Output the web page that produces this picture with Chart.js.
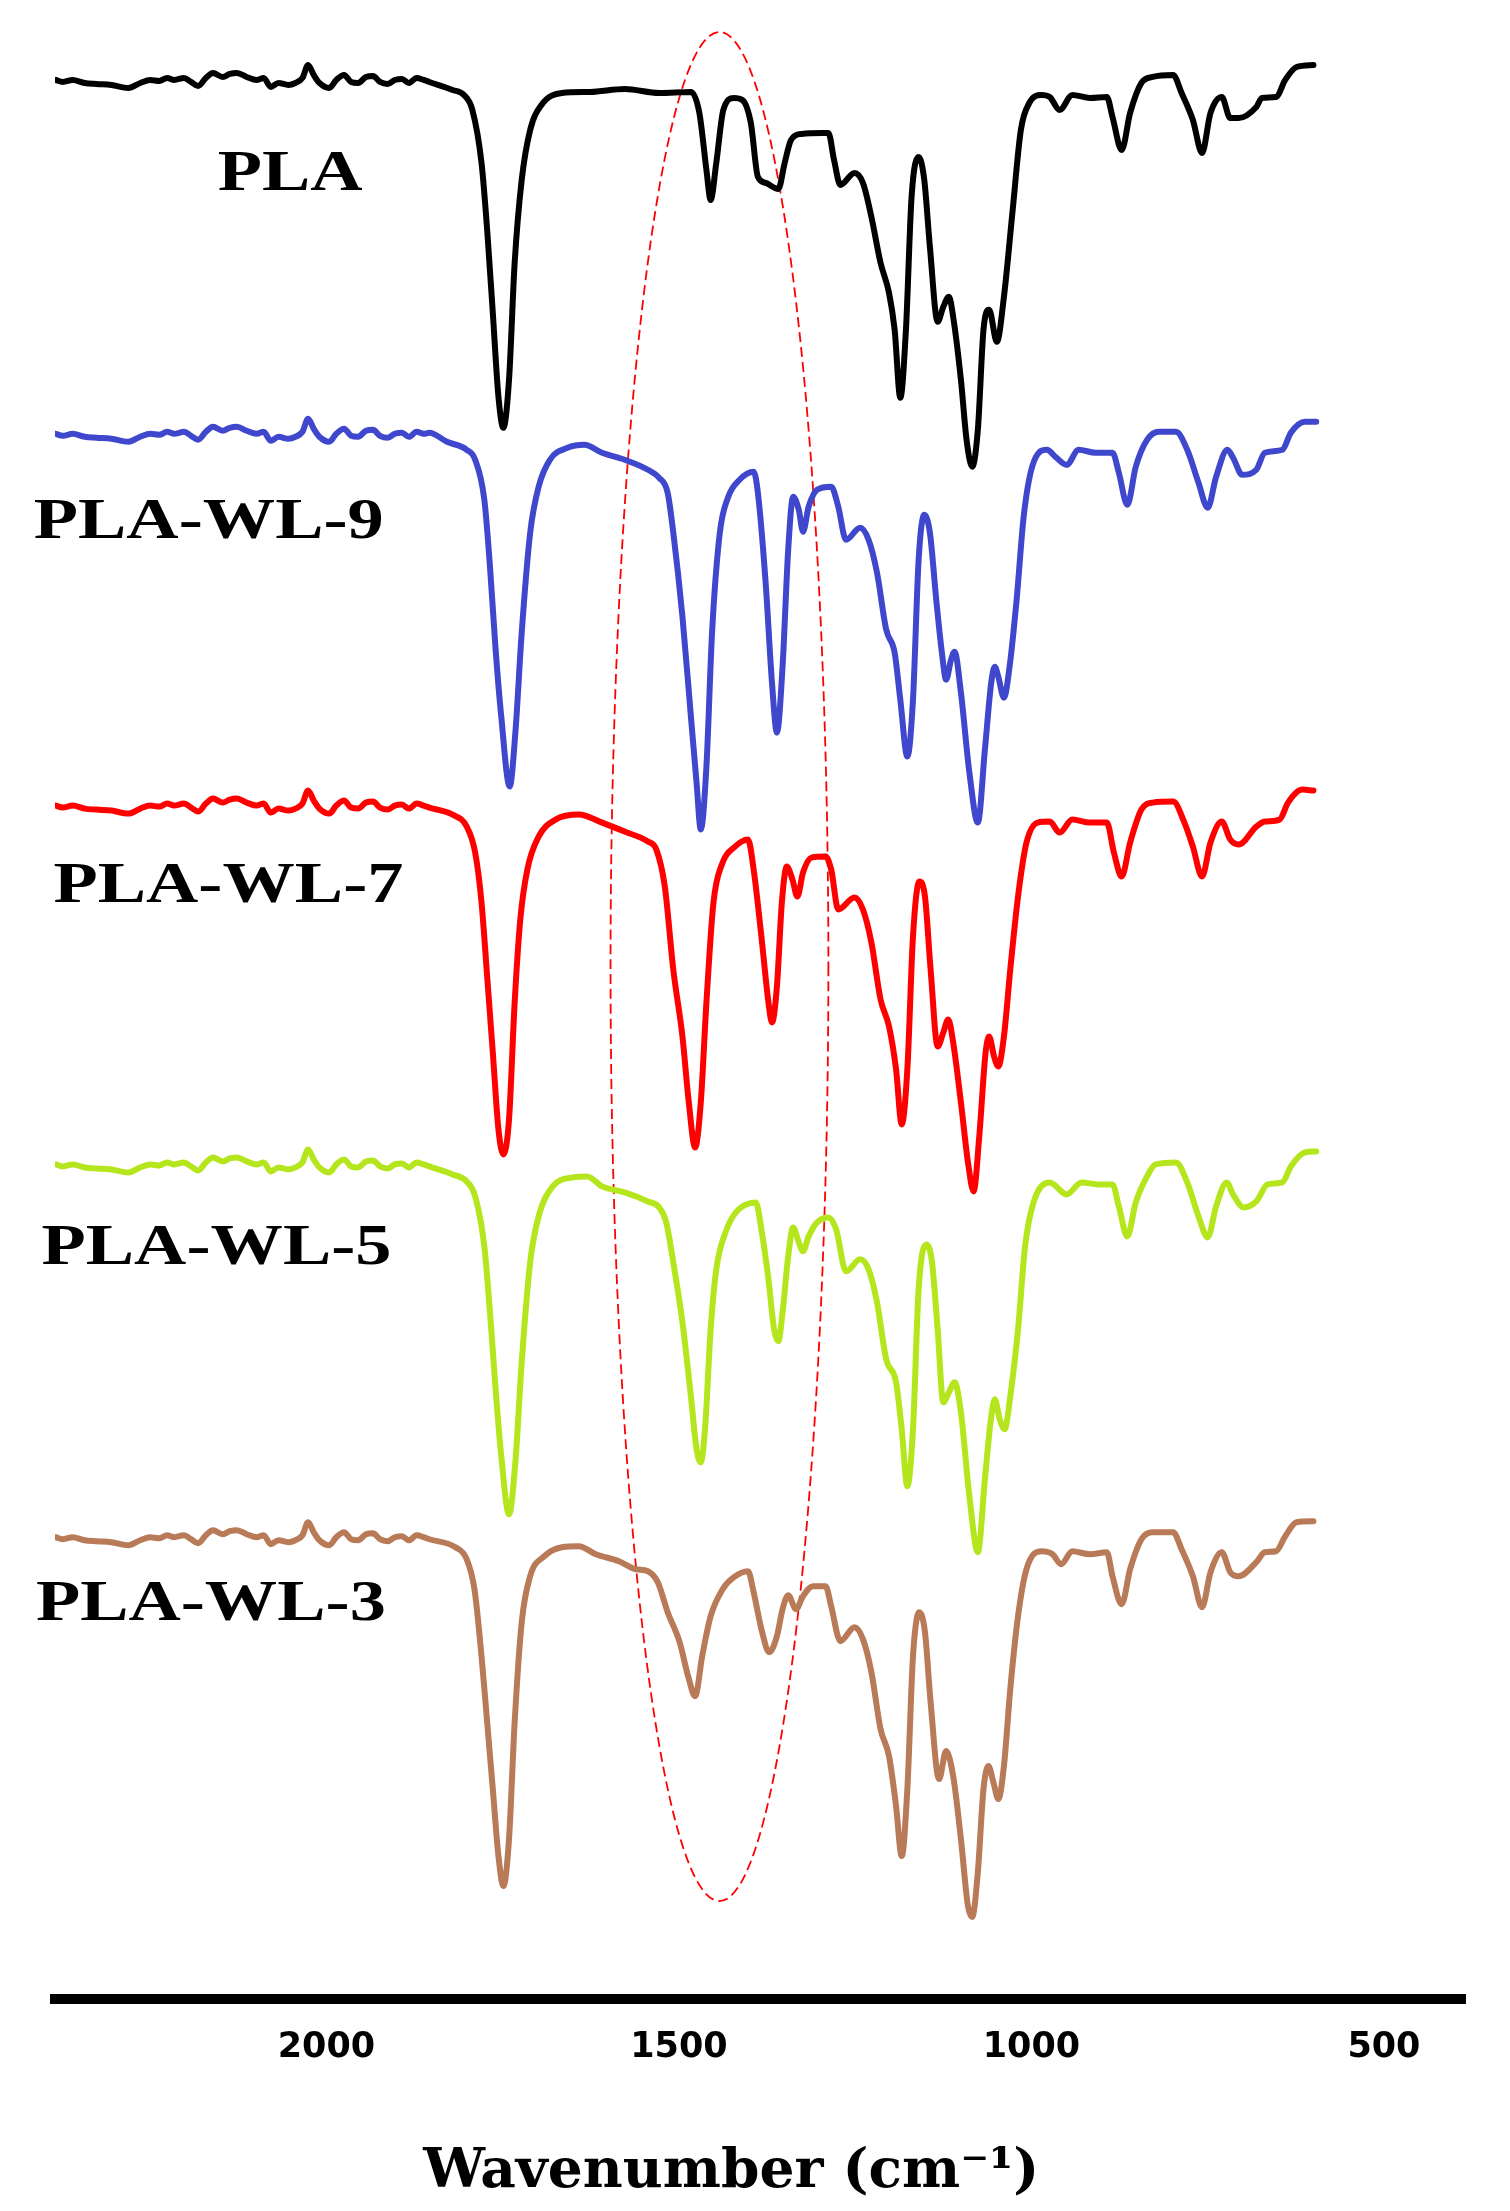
<!DOCTYPE html>
<html>
<head>
<meta charset="utf-8">
<title>FTIR spectra</title>
<script src="https://cdn.jsdelivr.net/npm/chart.js@4.4.1/dist/chart.umd.min.js"></script>
<style>
    body { margin: 0; background: #ffffff; }
</style>
</head>
<body>
<canvas id="ftirChart" width="1510" height="2211"></canvas>
<script>
// spectra: wavenumber (cm-1) and stacked transmittance (a.u.)
const plaWn = [2384, 2374, 2360, 2343, 2326, 2305, 2281, 2264, 2250, 2237, 2226, 2216, 2202, 2192, 2182, 2171, 2161, 2147, 2137, 2127,
    2113, 2099, 2089, 2079, 2068, 2054, 2044, 2034, 2026, 2018, 2010, 1996, 1986, 1975, 1965, 1955, 1944, 1934, 1924, 1913,
    1903, 1893, 1883, 1872, 1862,
    1854, 1821, 1805, 1793, 1780, 1772, 1764, 1756, 1749, 1741, 1733, 1723, 1711, 1695, 1666, 1626, 1577, 1528, 1483, 1471,
    1461, 1455, 1447, 1437, 1422, 1410, 1398, 1388, 1377, 1359, 1350, 1341, 1326, 1296, 1288, 1280, 1271, 1251, 1239, 1227,
    1214, 1202, 1194, 1186, 1178, 1170, 1160, 1152, 1144, 1133, 1125, 1117, 1111, 1100, 1092, 1084, 1076, 1068, 1060, 1049,
    1039, 1027, 1015, 1003, 986, 974, 960, 942, 917, 893, 885, 872, 860, 844, 828, 799, 787, 771, 758, 746,
    730, 718, 706, 681, 673, 653, 640, 624, 600];
const plaT = [192.0, 191.8, 192.0, 191.7, 191.6, 191.5, 191.2, 191.7, 192.0, 191.9, 192.2, 192.0, 192.2, 191.8, 191.4, 192.2, 192.7, 192.3, 192.6, 192.7,
    192.3, 192.0, 192.2, 191.3, 191.7, 191.5, 191.7, 192.2, 193.5, 192.5, 191.7, 191.2, 192.0, 192.5, 191.8, 191.7, 192.3, 192.4, 191.8, 191.6,
    192.0, 192.1, 191.7, 192.2, 192.0,
    191.8, 191.0, 190.5, 189.0, 183.7, 177.0, 168.7, 160.3, 157.2, 162.0, 173.7, 182.0, 187.0, 189.5, 190.7, 190.8, 191.1, 190.7, 190.8, 188.7,
    183.0, 180.0, 183.7, 189.0, 190.2, 190.0, 187.7, 182.3, 181.7, 181.1, 183.7, 186.0, 186.6, 186.7, 186.7, 184.0, 181.5, 182.7, 181.7, 178.3,
    173.7, 170.7, 167.0, 160.2, 167.0, 180.3, 184.3, 182.0, 175.3, 167.8, 169.3, 170.3, 168.3, 162.0, 156.0, 153.3, 157.0, 167.0, 169.0, 165.8,
    170.3, 178.7, 187.0, 189.7, 190.5, 190.3, 189.0, 190.5, 190.2, 190.3, 188.3, 185.0, 188.7, 191.7, 192.3, 192.5, 190.7, 188.0, 184.7, 188.7,
    190.3, 188.2, 188.2, 189.3, 190.2, 190.3, 192.0, 193.3, 193.5];

const wl9Wn = [2384, 2374, 2360, 2343, 2326, 2305, 2281, 2264, 2250, 2237, 2226, 2216, 2202, 2192, 2182, 2171, 2161, 2147, 2137, 2127,
    2113, 2099, 2089, 2079, 2068, 2054, 2044, 2034, 2026, 2018, 2010, 1996, 1986, 1975, 1965, 1955, 1944, 1934, 1924, 1913,
    1903, 1893, 1883, 1872, 1862,
    1854, 1829, 1801, 1789, 1776, 1768, 1760, 1752, 1740, 1732, 1723, 1711, 1699, 1683, 1658, 1634, 1609, 1577, 1544, 1528,
    1516, 1508, 1495, 1483, 1475, 1469, 1461, 1453, 1442, 1430, 1414, 1394, 1388, 1377, 1368, 1361, 1353, 1345, 1338, 1330,
    1324, 1316, 1304, 1284, 1274, 1263, 1243, 1231, 1219, 1206, 1194, 1186, 1176, 1168, 1160, 1152, 1144, 1135, 1127, 1121,
    1114, 1109, 1100, 1088, 1076, 1066, 1057, 1052, 1047, 1039, 1031, 1021, 1011, 999, 978, 966, 950, 933, 909, 885,
    876, 864, 852, 836, 819, 795, 779, 763, 750, 738, 722, 714, 701, 681, 669, 644, 632, 612, 596];
const wl9T = [156.6, 156.4, 156.6, 156.3, 156.2, 156.1, 155.8, 156.3, 156.6, 156.5, 156.8, 156.6, 156.8, 156.4, 156.0, 156.8, 157.3, 156.9, 157.2, 157.3,
    156.9, 156.6, 156.8, 155.9, 156.3, 156.1, 156.3, 156.8, 158.1, 157.1, 156.3, 155.8, 156.6, 157.1, 156.4, 156.3, 156.9, 157.0, 156.4, 156.2,
    156.6, 156.7, 156.3, 156.8, 156.6,
    156.7, 155.8, 155.0, 154.0, 150.0, 143.3, 135.0, 128.3, 121.3, 126.7, 136.7, 146.7, 151.3, 154.0, 155.2, 155.5, 154.7, 154.0, 153.0, 152.2,
    150.7, 146.7, 138.3, 128.3, 121.7, 117.0, 123.3, 136.7, 146.7, 150.3, 152.0, 152.8, 150.7, 141.7, 131.7, 126.7, 133.3, 145.0, 150.3, 149.0,
    146.8, 149.3, 151.0, 151.3, 149.3, 146.0, 147.2, 146.0, 142.7, 137.0, 134.7, 130.0, 124.3, 130.0, 144.0, 148.5, 146.7, 140.0, 134.7, 132.0,
    134.0, 134.8, 130.7, 122.7, 117.7, 125.0, 131.7, 133.3, 132.3, 130.2, 133.3, 140.0, 148.3, 153.3, 155.0, 154.3, 153.5, 155.0, 154.7, 154.7,
    152.7, 149.5, 153.3, 156.0, 156.8, 156.8, 155.0, 151.7, 149.2, 152.3, 155.0, 154.2, 152.5, 153.0, 154.7, 155.0, 156.7, 157.8, 157.8];

const wl7Wn = [2384, 2374, 2360, 2343, 2326, 2305, 2281, 2264, 2250, 2237, 2226, 2216, 2202, 2192, 2182, 2171, 2161, 2147, 2137, 2127,
    2113, 2099, 2089, 2079, 2068, 2054, 2044, 2034, 2026, 2018, 2010, 1996, 1986, 1975, 1965, 1955, 1944, 1934, 1924, 1913,
    1903, 1893, 1883, 1872, 1862,
    1854, 1821, 1801, 1789, 1780, 1772, 1764, 1756, 1749, 1741, 1733, 1725, 1715, 1699, 1675, 1642, 1609, 1577, 1544, 1532,
    1520, 1508, 1495, 1486, 1477, 1469, 1461, 1451, 1438, 1422, 1402, 1394, 1383, 1373, 1368, 1361, 1354, 1347, 1339, 1332,
    1324, 1312, 1292, 1284, 1274, 1251, 1239, 1227, 1214, 1202, 1192, 1184, 1176, 1168, 1159, 1151, 1143, 1133, 1125, 1118,
    1111, 1100, 1090, 1082, 1074, 1065, 1060, 1053, 1047, 1039, 1030, 1019, 1007, 991, 974, 960, 942, 917, 893, 883,
    872, 860, 844, 828, 799, 783, 771, 758, 746, 730, 718, 706, 681, 669, 648, 636, 616, 600];
const wl7T = [119.4, 119.2, 119.4, 119.1, 119.0, 118.9, 118.6, 119.1, 119.4, 119.3, 119.6, 119.4, 119.6, 119.2, 118.8, 119.6, 120.1, 119.7, 120.0, 120.1,
    119.7, 119.4, 119.6, 118.7, 119.1, 118.9, 119.1, 119.6, 120.9, 119.9, 119.1, 118.6, 119.4, 119.9, 119.2, 119.1, 119.7, 119.8, 119.2, 119.0,
    119.4, 119.5, 119.1, 119.6, 119.4,
    119.2, 118.5, 117.3, 114.7, 109.7, 102.3, 94.7, 87.0, 84.5, 88.0, 99.7, 108.0, 113.0, 116.3, 118.0, 118.5, 117.7, 116.8, 115.8, 115.0,
    111.3, 103.0, 96.3, 89.7, 85.2, 89.7, 99.7, 109.7, 113.7, 115.2, 116.0, 113.0, 106.3, 99.7, 97.7, 101.3, 109.7, 113.3, 112.0, 110.3,
    112.7, 114.2, 114.3, 113.0, 109.0, 110.2, 109.0, 105.7, 100.0, 97.3, 93.0, 87.5, 93.0, 106.3, 111.8, 110.3, 103.0, 95.3, 96.7, 98.0,
    95.7, 89.7, 83.7, 80.8, 86.3, 94.7, 96.3, 94.3, 93.3, 96.3, 103.0, 110.3, 115.7, 117.7, 117.8, 116.7, 118.0, 117.7, 117.7, 114.7,
    112.3, 115.7, 119.0, 119.7, 119.8, 117.7, 115.3, 112.3, 115.7, 117.8, 116.0, 115.5, 117.3, 117.8, 118.0, 119.7, 121.0, 120.9];

const wl5Wn = [2384, 2374, 2360, 2343, 2326, 2305, 2281, 2264, 2250, 2237, 2226, 2216, 2202, 2192, 2182, 2171, 2161, 2147, 2137, 2127,
    2113, 2099, 2089, 2079, 2068, 2054, 2044, 2034, 2026, 2018, 2010, 1996, 1986, 1975, 1965, 1955, 1944, 1934, 1924, 1913,
    1903, 1893, 1883, 1872, 1862,
    1854, 1821, 1801, 1789, 1776, 1768, 1760, 1752, 1741, 1732, 1723, 1711, 1699, 1679, 1650, 1630, 1609, 1577, 1544, 1528,
    1518, 1508, 1495, 1483, 1475, 1469, 1463, 1455, 1447, 1434, 1418, 1391, 1383, 1373, 1365, 1359, 1353, 1345, 1338, 1330,
    1324, 1316, 1304, 1288, 1277, 1263, 1243, 1231, 1219, 1206, 1192, 1184, 1176, 1168, 1160, 1149, 1141, 1133, 1125, 1117,
    1109, 1100, 1088, 1076, 1066, 1058, 1052, 1045, 1038, 1030, 1019, 1009, 997, 974, 950, 929, 905, 885, 876, 864,
    852, 836, 824, 795, 779, 763, 750, 738, 723, 714, 699, 681, 665, 644, 632, 612, 596];
const wl5T = [83.5, 83.3, 83.5, 83.2, 83.1, 83.0, 82.7, 83.2, 83.5, 83.4, 83.7, 83.5, 83.7, 83.3, 82.9, 83.7, 84.2, 83.8, 84.1, 84.2,
    83.8, 83.5, 83.7, 82.8, 83.2, 83.0, 83.2, 83.7, 85.0, 84.0, 83.2, 82.7, 83.5, 84.0, 83.3, 83.2, 83.8, 83.9, 83.3, 83.1,
    83.5, 83.6, 83.2, 83.7, 83.5,
    83.3, 82.5, 81.8, 80.3, 75.3, 68.7, 61.0, 54.3, 48.5, 53.7, 63.7, 73.7, 78.3, 81.3, 82.2, 82.3, 81.3, 80.7, 79.8, 79.2,
    77.7, 73.7, 67.7, 60.3, 55.0, 53.7, 57.0, 67.0, 73.0, 76.7, 78.8, 79.7, 77.0, 72.0, 67.0, 65.8, 68.7, 74.3, 77.2, 75.7,
    74.8, 76.3, 77.7, 78.2, 77.0, 72.8, 74.0, 73.0, 69.7, 64.0, 61.7, 57.0, 51.3, 57.0, 71.0, 75.5, 73.7, 67.0, 59.7, 60.7,
    61.7, 58.7, 50.3, 44.7, 52.0, 57.7, 60.0, 58.0, 57.0, 60.3, 67.0, 75.3, 79.7, 81.7, 80.5, 81.7, 81.5, 81.5, 79.3, 76.3,
    79.7, 82.3, 83.5, 83.7, 81.7, 78.3, 76.2, 79.3, 81.7, 80.5, 79.2, 79.8, 81.5, 81.7, 83.3, 84.7, 84.8];

const wl3Wn = [2384, 2374, 2360, 2343, 2326, 2305, 2281, 2264, 2250, 2237, 2226, 2216, 2202, 2192, 2182, 2171, 2161, 2147, 2137, 2127,
    2113, 2099, 2089, 2079, 2068, 2054, 2044, 2034, 2026, 2018, 2010, 1996, 1986, 1975, 1965, 1955, 1944, 1934, 1924, 1913,
    1903, 1893, 1883, 1872, 1862,
    1854, 1817, 1801, 1790, 1780, 1772, 1764, 1756, 1749, 1741, 1733, 1723, 1711, 1691, 1666, 1642, 1618, 1585, 1561, 1544,
    1530, 1516, 1499, 1487, 1477, 1467, 1455, 1438, 1422, 1402, 1394, 1383, 1372, 1361, 1353, 1345, 1334, 1324, 1310, 1292,
    1284, 1271, 1251, 1239, 1227, 1214, 1202, 1192, 1184, 1176, 1168, 1159, 1151, 1143, 1131, 1121, 1111, 1100, 1090, 1084,
    1076, 1068, 1061, 1054, 1047, 1039, 1030, 1019, 1007, 986, 970, 958, 942, 917, 893, 885, 872, 860, 844, 828,
    799, 787, 771, 758, 746, 730, 718, 706, 681, 669, 653, 640, 624, 600];
const wl3T = [46.2, 46.0, 46.2, 45.9, 45.8, 45.7, 45.4, 45.9, 46.2, 46.1, 46.4, 46.2, 46.4, 46.0, 45.6, 46.4, 46.9, 46.5, 46.8, 46.9,
    46.5, 46.2, 46.4, 45.5, 45.9, 45.7, 45.9, 46.4, 47.7, 46.7, 45.9, 45.4, 46.2, 46.7, 46.0, 45.9, 46.5, 46.6, 46.0, 45.8,
    46.2, 46.3, 45.9, 46.4, 46.2,
    46.0, 45.2, 44.0, 41.0, 34.3, 27.7, 21.0, 14.3, 11.3, 16.0, 27.7, 37.7, 42.3, 44.3, 45.2, 45.3, 44.5, 43.8, 43.0, 42.8,
    41.7, 38.7, 35.7, 32.3, 30.3, 34.3, 38.3, 41.0, 42.2, 42.8, 40.7, 37.0, 34.7, 36.3, 39.0, 40.4, 39.0, 40.3, 41.3, 41.3,
    39.3, 35.8, 37.2, 36.0, 32.7, 27.0, 24.3, 19.3, 14.3, 21.0, 34.3, 38.7, 36.7, 29.7, 22.0, 24.8, 22.3, 16.0, 9.3, 8.2,
    12.7, 21.0, 23.3, 21.7, 20.0, 23.3, 31.0, 38.3, 43.0, 44.8, 44.5, 43.5, 44.8, 44.5, 44.7, 42.3, 39.5, 43.0, 46.0, 46.7,
    46.7, 45.0, 42.3, 39.2, 42.7, 44.7, 42.7, 42.3, 43.7, 44.7, 44.8, 46.3, 47.7, 47.8];

const sampleNames = ['PLA', 'PLA-WL-9', 'PLA-WL-7', 'PLA-WL-5', 'PLA-WL-3'];
const wavenumberTicks = [500, 1000, 1500, 2000];

// where the sample names sit, in axis units
const nameWn = [2154, 2415, 2387, 2404, 2412];
const nameT = [181.0, 146.2, 109.8, 73.5, 37.9];

// dashed ring around the 1600-1290 cm-1 band
const ringWn = [1597, 1288];
const ringT = [196.8, 9.8];

const lineColors = ['#000000', '#3f48cc', '#ff0000', '#b5e61d', '#b97a57'];


function toPoints(wn, values) {
    return wn.map((w, i) => ({ x: w, y: values[i] }));
}

const sampleNamesPlugin = {
    id: 'sampleNames',
    afterDatasetsDraw(chart) {
        const { ctx, scales: { x, y } } = chart;
        ctx.save();
        ctx.fillStyle = '#000000';
        ctx.font = 'bold 57px "Liberation Serif", serif';
        ctx.textBaseline = 'alphabetic';
        ctx.textAlign = 'left';
        sampleNames.forEach((name, i) => {
            ctx.save();
            ctx.translate(x.getPixelForValue(nameWn[i]), y.getPixelForValue(nameT[i]));
            ctx.scale(1.27, 1);
            ctx.fillText(name, 0, 0);
            ctx.restore();
        });
        ctx.restore();
    }
};

const ringPlugin = {
    id: 'ring',
    beforeDatasetsDraw(chart) {
        const { ctx, scales: { x, y } } = chart;
        const x1 = x.getPixelForValue(ringWn[0]);
        const x2 = x.getPixelForValue(ringWn[1]);
        const y1 = y.getPixelForValue(ringT[0]);
        const y2 = y.getPixelForValue(ringT[1]);
        ctx.save();
        ctx.strokeStyle = '#ff0000';
        ctx.lineWidth = 1.8;
        ctx.setLineDash([10, 5]);
        ctx.beginPath();
        ctx.ellipse((x1 + x2) / 2, (y1 + y2) / 2, Math.abs(x2 - x1) / 2, Math.abs(y2 - y1) / 2, 0, 0, Math.PI * 2);
        ctx.stroke();
        ctx.restore();
    }
};

function drawSpectra() {
    const ctx = document.getElementById('ftirChart').getContext('2d');
    const series = [
        [plaWn, plaT], [wl9Wn, wl9T], [wl7Wn, wl7T], [wl5Wn, wl5T], [wl3Wn, wl3T]
    ];

    new Chart(ctx, {
        type: 'line',
        data: {
            datasets: series.map(([wn, values], i) => ({
                label: sampleNames[i],
                data: toPoints(wn, values),
                borderColor: lineColors[i],
                borderWidth: 6,
                pointRadius: 0,
                fill: false,
                cubicInterpolationMode: 'monotone',
                borderJoinStyle: 'round',
                borderCapStyle: 'round'
            }))
        },
        options: {
            responsive: false,
            animation: false,
            layout: {
                padding: { left: 55, right: 45, top: 0, bottom: 0 }
            },
            plugins: {
                legend: { display: false },
                tooltip: { enabled: false }
            },
            scales: {
                x: {
                    type: 'linear',
                    reverse: true,
                    min: 385,
                    max: 2385,
                    afterBuildTicks: axis => {
                        axis.ticks = wavenumberTicks.map(v => ({ value: v }));
                    },
                    grid: { display: false, drawTicks: false },
                    border: { display: true, color: '#000000', width: 10 },
                    ticks: {
                        color: '#000000',
                        padding: 28,
                        font: { family: "'DejaVu Sans', sans-serif", size: 35, weight: 'bold' },
                        callback: value => String(value)
                    },
                    title: {
                        display: true,
                        text: 'Wavenumber (cm\u207B\u00B9)\u00A0\u00A0\u00A0',
                        color: '#000000',
                        font: { family: "'DejaVu Serif', serif", size: 55, weight: 'bold' },
                        padding: { top: 43, bottom: 5 }
                    }
                },
                y: {
                    display: false,
                    min: 0,
                    max: 200
                }
            }
        },
        plugins: [ringPlugin, sampleNamesPlugin]
    });
}

document.addEventListener('DOMContentLoaded', () => {
    drawSpectra();
});
</script>
</body>
</html>
